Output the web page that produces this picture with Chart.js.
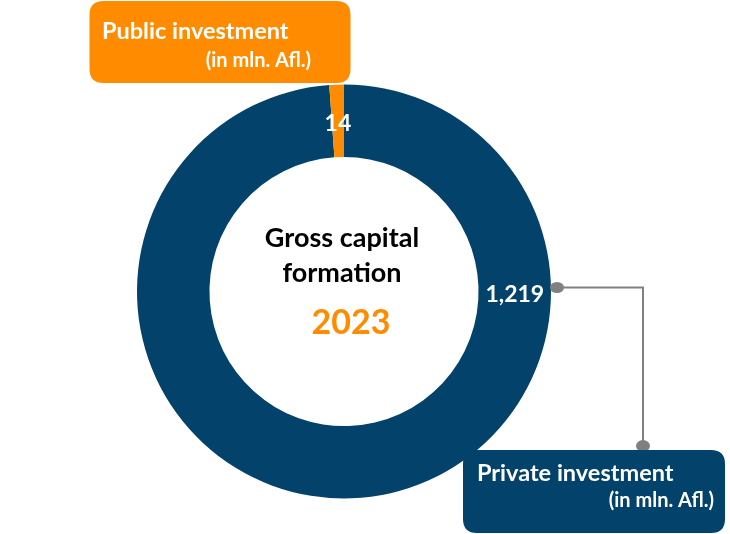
<!DOCTYPE html>
<html>
<head>
<meta charset="utf-8">
<script src="https://cdn.jsdelivr.net/npm/chart.js@4/dist/chart.umd.min.js"></script>
<style>
  body { margin: 0; background: #fff; }
  canvas { display: block; }
</style>
</head>
<body>
<canvas id="gcfChart" width="730" height="534"></canvas>
<script>
const categories = ['Private investment', 'Public investment'];
const values = [1219, 14];
const sliceColors = ['#03426A', '#FF8C00'];
const chartTitle = ['Gross capital', 'formation'];
const chartYear = '2023';
const unitNote = '(in mln. Afl.)';

const FONT = 'Lato, "Open Sans", sans-serif';
const NAVY = '#03426A';
const ORANGE = '#FF8C00';

function roundBox(ctx, x, y, w, h, r, color) {
    ctx.beginPath();
    ctx.moveTo(x + r, y);
    ctx.lineTo(x + w - r, y);
    ctx.quadraticCurveTo(x + w, y, x + w, y + r);
    ctx.lineTo(x + w, y + h - r);
    ctx.quadraticCurveTo(x + w, y + h, x + w - r, y + h);
    ctx.lineTo(x + r, y + h);
    ctx.quadraticCurveTo(x, y + h, x, y + h - r);
    ctx.lineTo(x, y + r);
    ctx.quadraticCurveTo(x, y, x + r, y);
    ctx.closePath();
    ctx.fillStyle = color;
    ctx.fill();
}

const decorations = {
    id: 'decorations',
    afterDraw(chart) {
        const ctx = chart.ctx;
        const arcs = chart.getDatasetMeta(0).data;
        ctx.save();

        // slice values
        ctx.fillStyle = '#fff';
        ctx.font = 'bold 23px ' + FONT;
        ctx.textAlign = 'center';
        ctx.textBaseline = 'middle';
        arcs.forEach((arc, i) => {
            const p = arc.getProps(['x', 'y', 'startAngle', 'endAngle', 'innerRadius', 'outerRadius']);
            const rMid = (p.innerRadius + p.outerRadius) / 2;
            // the big slice gets its label on the right, the small one in its middle
            const angle = i === 0 ? 0 : (p.startAngle + p.endAngle) / 2;
            const text = values[i].toLocaleString('en-US');
            ctx.fillText(text, p.x + rMid * Math.cos(angle), p.y + rMid * Math.sin(angle) + 3);
        });

        const c = arcs[0];
        // centre text
        ctx.textBaseline = 'alphabetic';
        ctx.fillStyle = '#000';
        ctx.font = 'bold 27px ' + FONT;
        ctx.fillText(chartTitle[0], c.x - 2, 247);
        ctx.fillText(chartTitle[1], c.x - 2, 282);
        ctx.fillStyle = ORANGE;
        ctx.font = 'bold 34px ' + FONT;
        ctx.fillText(chartYear, c.x + 7, 334);

        // connector to private box
        const right = c.x + c.outerRadius;
        ctx.strokeStyle = '#808080';
        ctx.fillStyle = '#808080';
        ctx.lineWidth = 2;
        ctx.beginPath();
        ctx.moveTo(right + 6, 287.5);
        ctx.lineTo(643, 287.5);
        ctx.lineTo(643, 446);
        ctx.stroke();
        ctx.beginPath();
        ctx.ellipse(right + 6, 287.5, 7, 5.5, 0, 0, Math.PI * 2);
        ctx.fill();
        ctx.beginPath();
        ctx.ellipse(643, 446, 7, 6, 0, 0, Math.PI * 2);
        ctx.fill();

        // boxes
        roundBox(ctx, 89.5, 1, 261, 82, 14, ORANGE);
        roundBox(ctx, 463, 450, 262, 83, 14, NAVY);

        ctx.fillStyle = '#fff';
        ctx.textAlign = 'left';
        ctx.font = 'bold 23.5px ' + FONT;
        ctx.fillText(categories[1], 102, 39);
        ctx.fillText(categories[0], 477, 481);
        ctx.textAlign = 'right';
        ctx.font = 'bold 20px ' + FONT;
        ctx.fillText(unitNote, 311, 67);
        ctx.fillText(unitNote, 714, 507);

        ctx.restore();
    }
};

new Chart(document.getElementById('gcfChart').getContext('2d'), {
    type: 'doughnut',
    data: {
        labels: categories,
        datasets: [{
            data: values,
            backgroundColor: sliceColors,
            borderWidth: 0
        }]
    },
    options: {
        responsive: false,
        animation: false,
        cutout: '65%',
        layout: {
            padding: { left: 100, right: 142, top: 84.5, bottom: 35.5 }
        },
        plugins: {
            legend: { display: false },
            tooltip: { enabled: false }
        }
    },
    plugins: [decorations]
});
</script>
</body>
</html>
